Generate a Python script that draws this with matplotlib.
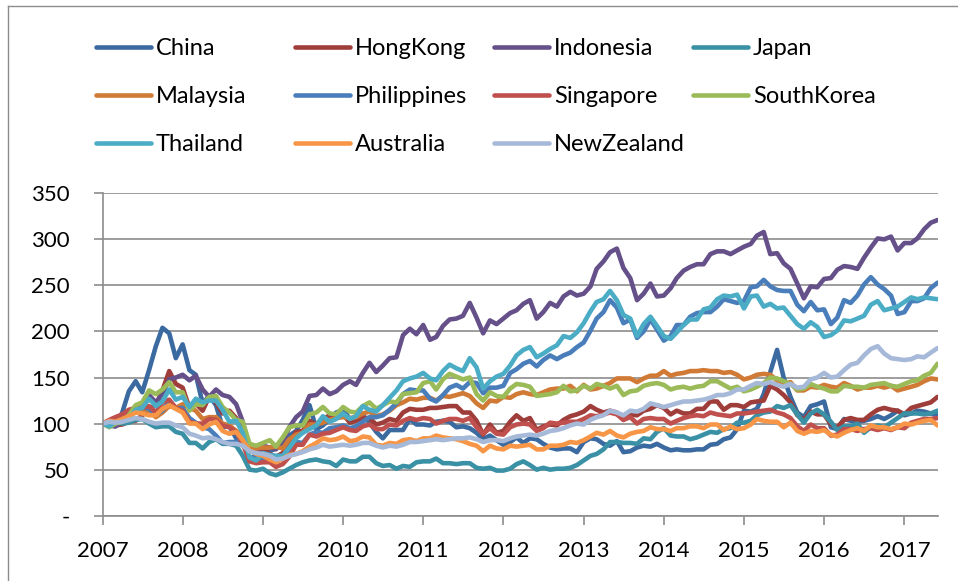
import datetime as dt
import pandas as pd
import matplotlib
matplotlib.use('Agg')
import matplotlib.pyplot as plt
import matplotlib.dates as mdates
from matplotlib.lines import Line2D

plt.rcParams['font.family'] = ['Lato', 'DejaVu Sans']

# monthly readings, start of each month, Jan 2007 .. Jun 2017 (index = 100 at start)
dates = pd.date_range('2007-01-01', periods=126, freq='MS')

china = [100, 98, 97, 112, 135, 146, 134, 158, 184, 204, 198, 171,
         186, 158, 153, 122, 130, 120, 96, 97, 84, 80, 61, 66,
         64, 70, 73, 83, 87, 92, 104, 120, 94, 98, 105, 112,
         115, 105, 107, 109, 101, 91, 84, 93, 93, 93, 105, 99,
         99, 98, 102, 103, 102, 96, 97, 95, 90, 83, 87, 82,
         77, 80, 85, 79, 84, 83, 78, 74, 72, 73, 73, 69,
         80, 84, 83, 78, 76, 81, 69, 70, 74, 76, 75, 78,
         74, 71, 72, 71, 71, 72, 72, 77, 78, 83, 85, 94,
         114, 113, 116, 132, 156, 180, 150, 129, 112, 107, 119, 121,
         124, 96, 94, 105, 103, 102, 103, 105, 108, 105, 109, 114,
         109, 111, 114, 113, 111, 109]
hongkong = [100, 101, 98, 99, 102, 103, 109, 116, 120, 136, 157, 143,
            139, 117, 122, 114, 129, 123, 111, 114, 106, 90, 70, 70,
            72, 67, 64, 68, 78, 91, 92, 103, 99, 105, 109, 109,
            110, 101, 103, 106, 106, 99, 101, 105, 103, 112, 116, 115,
            115, 117, 117, 118, 119, 119, 112, 112, 103, 88, 99, 90,
            92, 102, 109, 103, 106, 93, 97, 99, 98, 104, 108, 110,
            113, 119, 115, 112, 114, 112, 104, 110, 109, 114, 116, 120,
            117, 110, 114, 111, 111, 116, 116, 124, 124, 115, 120, 120,
            118, 123, 124, 125, 141, 137, 131, 123, 109, 104, 113, 110,
            110, 99, 96, 104, 106, 104, 104, 110, 115, 117, 115, 114,
            110, 117, 119, 121, 123, 129]
indonesia = [100, 98, 97, 102, 112, 116, 119, 131, 123, 132, 148, 150,
             153, 147, 152, 137, 129, 137, 131, 129, 121, 102, 70, 69,
             76, 74, 72, 80, 96, 107, 113, 130, 131, 138, 132, 135,
             142, 146, 142, 155, 166, 156, 163, 171, 172, 196, 203, 197,
             207, 191, 194, 206, 213, 214, 217, 231, 215, 198, 212, 208,
             214, 220, 223, 230, 234, 214, 221, 231, 227, 238, 243, 239,
             241, 249, 268, 276, 286, 290, 269, 258, 234, 241, 252, 238,
             239, 247, 258, 266, 270, 273, 273, 284, 287, 287, 284, 288,
             292, 295, 304, 308, 284, 285, 274, 268, 252, 236, 249, 248,
             257, 258, 267, 271, 270, 268, 280, 291, 301, 300, 303, 288,
             296, 296, 301, 311, 318, 321]
japan = [100, 101, 102, 100, 101, 104, 105, 100, 96, 97, 97, 91,
         89, 79, 79, 73, 80, 83, 78, 78, 76, 65, 50, 49,
         51, 46, 44, 47, 51, 55, 58, 60, 61, 59, 58, 54,
         61, 59, 59, 64, 64, 57, 54, 55, 51, 54, 53, 58,
         59, 59, 62, 57, 57, 56, 57, 57, 52, 51, 52, 49,
         49, 51, 56, 59, 55, 50, 52, 50, 51, 51, 52, 55,
         60, 65, 67, 72, 80, 80, 79, 79, 78, 84, 83, 91,
         95, 87, 86, 86, 83, 85, 88, 91, 90, 94, 95, 101,
         101, 103, 109, 112, 113, 119, 117, 120, 110, 101, 111, 115,
         110, 102, 93, 97, 97, 100, 90, 96, 98, 96, 101, 106,
         111, 111, 111, 110, 111, 114]
malaysia = [100, 100, 101, 105, 111, 113, 114, 115, 107, 112, 119, 117,
            121, 117, 114, 105, 107, 107, 100, 98, 92, 86, 73, 73,
            74, 74, 75, 73, 83, 88, 90, 99, 99, 101, 104, 106,
            107, 106, 107, 111, 113, 108, 110, 114, 120, 123, 127, 126,
            128, 128, 125, 130, 129, 131, 133, 130, 122, 117, 125, 124,
            129, 128, 132, 134, 132, 131, 134, 137, 138, 138, 141, 135,
            142, 137, 138, 141, 144, 149, 149, 149, 145, 149, 152, 152,
            157, 152, 154, 155, 157, 157, 158, 157, 157, 155, 156, 153,
            148, 150, 153, 154, 153, 147, 143, 145, 136, 136, 140, 139,
            142, 140, 139, 144, 141, 137, 139, 139, 141, 139, 141, 136,
            138, 140, 142, 146, 149, 148]
philippines = [100, 103, 104, 102, 109, 117, 118, 116, 110, 114, 125, 116,
               117, 106, 101, 96, 94, 87, 79, 80, 80, 83, 63, 63,
               60, 62, 61, 64, 71, 80, 79, 88, 91, 90, 95, 96,
               98, 95, 97, 102, 107, 107, 109, 115, 122, 132, 137, 136,
               136, 127, 124, 131, 139, 142, 138, 145, 144, 133, 139, 139,
               141, 155, 159, 165, 168, 162, 169, 174, 170, 174, 177, 183,
               188, 201, 214, 221, 234, 226, 209, 213, 193, 200, 213, 202,
               190, 195, 207, 207, 216, 220, 221, 221, 227, 235, 233, 231,
               233, 248, 249, 256, 249, 245, 244, 244, 229, 222, 232, 223,
               224, 208, 215, 234, 231, 239, 251, 259, 251, 246, 239, 219,
               221, 233, 233, 236, 247, 253]
singapore = [100, 104, 107, 110, 115, 117, 117, 119, 112, 123, 126, 117,
             114, 102, 100, 100, 105, 104, 98, 96, 91, 78, 59, 57,
             58, 58, 53, 56, 64, 77, 77, 88, 86, 89, 90, 93,
             96, 93, 92, 97, 99, 94, 94, 99, 98, 103, 106, 104,
             106, 105, 100, 103, 105, 105, 103, 106, 96, 89, 95, 89,
             88, 96, 99, 100, 99, 92, 95, 101, 100, 101, 102, 102,
             105, 109, 108, 110, 112, 110, 104, 107, 100, 105, 106, 105,
             105, 100, 103, 106, 108, 109, 108, 112, 110, 109, 108, 111,
             111, 112, 113, 114, 115, 112, 110, 106, 97, 92, 99, 95,
             95, 87, 88, 94, 94, 92, 94, 95, 93, 95, 93, 96,
             95, 101, 103, 105, 105, 106]
southkorea = [100, 96, 100, 102, 109, 120, 123, 136, 132, 137, 145, 134,
              134, 114, 121, 120, 129, 130, 118, 112, 104, 102, 78, 76,
              79, 82, 75, 85, 96, 98, 98, 110, 112, 118, 111, 110,
              118, 113, 112, 119, 123, 116, 120, 124, 123, 132, 133, 134,
              144, 146, 137, 148, 154, 151, 148, 150, 132, 125, 134, 130,
              129, 138, 143, 142, 140, 130, 131, 132, 134, 141, 135, 136,
              141, 138, 143, 141, 138, 141, 131, 135, 136, 141, 143, 144,
              142, 137, 139, 140, 138, 140, 141, 146, 146, 142, 138, 140,
              135, 137, 140, 144, 150, 149, 146, 143, 137, 138, 143, 140,
              138, 135, 135, 141, 140, 140, 139, 142, 143, 144, 141, 140,
              143, 146, 147, 152, 155, 165]
thailand = [100, 97, 102, 102, 105, 115, 117, 127, 119, 124, 137, 126,
            129, 118, 127, 123, 125, 125, 115, 102, 103, 90, 63, 60,
            68, 66, 65, 65, 74, 84, 90, 94, 98, 108, 102, 105,
            111, 105, 108, 119, 115, 113, 120, 128, 136, 146, 149, 151,
            155, 149, 147, 157, 164, 160, 157, 171, 161, 138, 146, 151,
            154, 163, 174, 180, 183, 172, 176, 181, 185, 195, 193, 199,
            209, 222, 232, 235, 244, 234, 218, 214, 195, 208, 216, 206,
            195, 192, 199, 207, 213, 213, 224, 226, 235, 239, 238, 240,
            225, 238, 239, 227, 230, 225, 226, 217, 208, 203, 210, 205,
            194, 196, 201, 212, 211, 214, 217, 229, 233, 223, 225, 227,
            232, 237, 235, 237, 236, 235]
australia = [100, 103, 102, 105, 108, 112, 111, 109, 109, 116, 120, 116,
             112, 100, 100, 94, 99, 102, 92, 89, 91, 82, 71, 67,
             65, 61, 58, 62, 66, 67, 70, 75, 79, 84, 82, 83,
             86, 81, 82, 86, 85, 77, 76, 79, 78, 82, 83, 81,
             84, 84, 87, 85, 84, 83, 81, 78, 76, 70, 76, 73,
             72, 76, 75, 76, 77, 72, 72, 76, 76, 77, 80, 79,
             82, 86, 90, 88, 92, 87, 85, 89, 91, 92, 96, 94,
             94, 92, 95, 95, 97, 97, 95, 99, 99, 93, 97, 94,
             95, 99, 105, 103, 102, 102, 96, 101, 92, 89, 92, 91,
             93, 88, 86, 90, 93, 95, 92, 98, 96, 96, 94, 96,
             100, 99, 101, 103, 104, 98]
newzealand = [100, 102, 101, 102, 104, 106, 105, 102, 100, 101, 101, 98,
              96, 89, 87, 84, 85, 83, 80, 78, 78, 76, 70, 68,
              67, 65, 61, 62, 65, 67, 69, 72, 74, 77, 75, 76,
              77, 76, 77, 79, 79, 76, 74, 76, 75, 77, 80, 80,
              81, 82, 83, 82, 83, 84, 84, 85, 83, 80, 82, 82,
              81, 84, 86, 87, 88, 87, 89, 92, 93, 95, 98, 100,
              99, 104, 107, 109, 114, 112, 109, 114, 113, 116, 122, 120,
              118, 120, 122, 124, 124, 125, 126, 128, 131, 131, 133, 137,
              137, 141, 144, 143, 145, 142, 140, 143, 139, 140, 148, 150,
              155, 150, 151, 158, 164, 166, 174, 181, 184, 176, 171, 170,
              169, 170, 173, 172, 177, 182]

names = ['China', 'HongKong', 'Indonesia', 'Japan', 'Malaysia', 'Philippines',
         'Singapore', 'SouthKorea', 'Thailand', 'Australia', 'NewZealand']
series = [china, hongkong, indonesia, japan, malaysia, philippines,
          singapore, southkorea, thailand, australia, newzealand]
colors = ['#3B6AA0', '#9E3D3A', '#65508A', '#3A91A5', '#D07A35', '#4A7EBB',
          '#C0504D', '#9BBB59', '#4BACC6', '#F79646', '#A7B9D8']

W, H = 958, 581
grey = '#8C8C8C'
fig = plt.figure(figsize=(W / 100, H / 100), dpi=100)
ax = fig.add_axes([102.5 / W, 1 - 515.7 / H, (938 - 102.5) / W, (515.7 - 193.3) / H])

for vals, c in zip(series, colors):
    ax.plot(dates, vals, color=c, lw=3.3, solid_joinstyle='round', solid_capstyle='round')

ax.set_ylim(0, 350)
ax.set_xlim(dt.datetime(2007, 1, 1), dt.datetime(2017, 6, 3))
ax.set_yticks(range(0, 351, 50))
ax.set_yticklabels(['-'] + [str(v) for v in range(50, 351, 50)])
ax.xaxis.set_major_locator(mdates.YearLocator())
ax.xaxis.set_major_formatter(mdates.DateFormatter('%Y'))

ax.yaxis.grid(True, color=grey, lw=1.2)
ax.set_axisbelow(True)
for s in ['top', 'right']:
    ax.spines[s].set_visible(False)
for s in ['left', 'bottom']:
    ax.spines[s].set_color(grey)
    ax.spines[s].set_linewidth(1.2)
ax.tick_params(direction='out', length=6.5, width=1.2, color=grey, labelsize=16)
ax.tick_params(axis='y', pad=17)
ax.tick_params(axis='x', pad=12)

# legend, 4 columns x 3 rows above the plot
for i, (name, c) in enumerate(zip(names, colors)):
    col, row = i % 4, i // 4
    x0 = 96 + 199 * col
    yc = 46.7 + 48 * row
    fig.add_artist(Line2D([x0 / W, (x0 + 55) / W], [1 - yc / H] * 2, color=c, lw=3.3,
                          solid_capstyle='round'))
    fig.text((x0 + 60) / W, 1 - (yc + 8.5) / H, name, fontsize=17, va='baseline')

# chart area border (left and top edges visible)
fig.add_artist(Line2D([8 / W, 8 / W], [0, 1 - 6 / H], color=grey, lw=1))
fig.add_artist(Line2D([8 / W, 1], [1 - 6 / H, 1 - 6 / H], color=grey, lw=1))

fig.savefig('out.png', dpi=100)
